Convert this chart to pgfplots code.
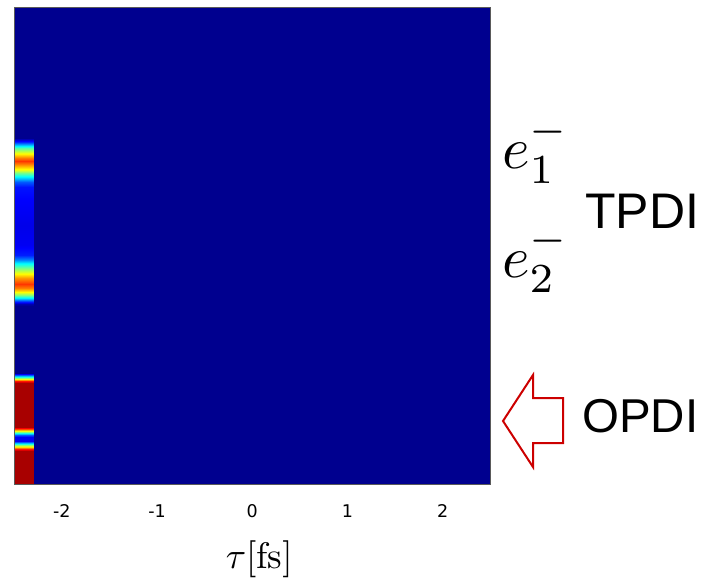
\documentclass[border=0pt]{standalone}
\usepackage{graphicx}
\usepackage{fontspec}
\setsansfont{DejaVu Sans}
\newfontfamily\arialfont{Liberation Sans}
\newfontfamily\tickfont{DejaVu Sans}
\usepackage{pgfplots}
\pgfplotsset{compat=1.18}
\definecolor{arrowred}{RGB}{204,0,0}
\definecolor{framegray}{RGB}{90,90,90}
\begin{document}
\begin{tikzpicture}[x=1pt,y=1pt]
\useasboundingbox (0,0) rectangle (702,-581);
\begin{axis}[
  at={(15,-484)}, anchor=south west,
  scale only axis, width=476pt, height=477pt,
  xmin=-2.5, xmax=2.5, ymin=0, ymax=477,
  xtick={-2,-1,0,1,2},
  xticklabels={-2,-1,0,1,2},
  ytick=\empty,
  major tick length=0pt,
  tick label style={font=\tickfont\fontsize{17.5}{21}\selectfont},
  xticklabel style={anchor=base, yshift=-33pt},
  xlabel={\scalebox{3.7}{$\tau[\mathrm{fs}]$}},
  xlabel style={font=\fontsize{10}{12}\selectfont, at={(axis description cs:0.5,0)}, anchor=base, yshift=-84pt, xshift=7pt},
  axis line style={framegray, line width=0.8pt},
  axis on top,
  colormap={matjet}{rgb(0pt)=(0,0,0.5625); rgb(111pt)=(0,0,1); rgb(365pt)=(0,1,1); rgb(619pt)=(1,1,0); rgb(873pt)=(1,0,0); rgb(1000pt)=(0.5,0,0)},
  point meta min=0, point meta max=1,
]
% background (all zero)
\addplot[surf, shader=flat, mesh/cols=2, point meta=\thisrow{c}] table {
x y c
-2.3 0 0
2.5 0 0

-2.3 477 0
2.5 477 0
};
% strip at the left edge
\addplot[surf, shader=interp, mesh/cols=2, point meta=\thisrow{c}] table {
x y c
-2.5 0 0.96
-2.3 0 0.96

-2.5 33 0.96
-2.3 33 0.96

-2.5 35 0.85
-2.3 35 0.85

-2.5 37 0.65
-2.3 37 0.65

-2.5 39 0.5
-2.3 39 0.5

-2.5 41 0.3
-2.3 41 0.3

-2.5 43 0.1
-2.3 43 0.1

-2.5 47 0.1
-2.3 47 0.1

-2.5 49 0.2
-2.3 49 0.2

-2.5 51 0.4
-2.3 51 0.4

-2.5 53 0.6
-2.3 53 0.6

-2.5 55 0.8
-2.3 55 0.8

-2.5 57 0.96
-2.3 57 0.96

-2.5 101 0.96
-2.3 101 0.96

-2.5 103 0.85
-2.3 103 0.85

-2.5 105 0.6
-2.3 105 0.6

-2.5 107 0.4
-2.3 107 0.4

-2.5 109 0.2
-2.3 109 0.2

-2.5 111 0
-2.3 111 0

-2.5 178 0
-2.3 178 0

-2.5 180 0.03
-2.3 180 0.03

-2.5 183 0.18
-2.3 183 0.18

-2.5 186 0.35
-2.3 186 0.35

-2.5 189 0.5
-2.3 189 0.5

-2.5 192 0.62
-2.3 192 0.62

-2.5 196 0.75
-2.3 196 0.75

-2.5 200 0.82
-2.3 200 0.82

-2.5 206 0.72
-2.3 206 0.72

-2.5 211 0.6
-2.3 211 0.6

-2.5 216 0.48
-2.3 216 0.48

-2.5 221 0.35
-2.3 221 0.35

-2.5 224 0.25
-2.3 224 0.25

-2.5 229 0.14
-2.3 229 0.14

-2.5 239 0.1
-2.3 239 0.1

-2.5 259 0.09
-2.3 259 0.09

-2.5 284 0.11
-2.3 284 0.11

-2.5 297 0.13
-2.3 297 0.13

-2.5 302 0.2
-2.3 302 0.2

-2.5 307 0.35
-2.3 307 0.35

-2.5 311 0.48
-2.3 311 0.48

-2.5 314 0.6
-2.3 314 0.6

-2.5 320 0.75
-2.3 320 0.75

-2.5 323 0.82
-2.3 323 0.82

-2.5 326 0.75
-2.3 326 0.75

-2.5 331 0.6
-2.3 331 0.6

-2.5 336 0.45
-2.3 336 0.45

-2.5 339 0.3
-2.3 339 0.3

-2.5 342 0.15
-2.3 342 0.15

-2.5 346 0
-2.3 346 0

-2.5 477 0
-2.3 477 0
};
\end{axis}
% annotations
\node[anchor=base west, inner sep=0pt, font=\fontsize{10}{12}\selectfont] at (502,-168) {\scalebox{5.9}{$e_1^-$}};
\node[anchor=base west, inner sep=0pt, font=\fontsize{10}{12}\selectfont] at (502,-277) {\scalebox{5.9}{$e_2^-$}};
\node[anchor=base west, inner sep=0pt, font=\arialfont\fontsize{50}{60}\selectfont] at (585,-228) {TPDI};
\node[anchor=base west, inner sep=0pt, font=\arialfont\fontsize{47.5}{58}\selectfont] at (582,-432) {OPDI};
\draw[arrowred, line width=2pt, line join=miter] (503,-421) -- (533,-375) -- (533,-398) -- (563,-398) -- (563,-443) -- (533,-443) -- (533,-467) -- cycle;
\end{tikzpicture}
\end{document}
